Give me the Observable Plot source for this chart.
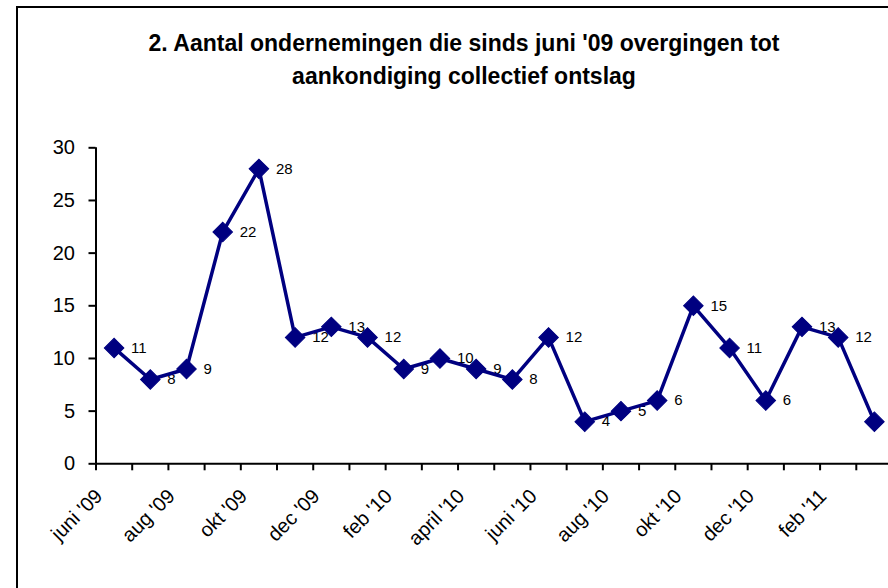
<!DOCTYPE html>
<html><head><meta charset="utf-8">
<script src="https://cdn.jsdelivr.net/npm/d3@7"></script>
<script src="https://cdn.jsdelivr.net/npm/@observablehq/plot@0.6"></script>
<style>
html,body{margin:0;padding:0;background:#fff;}
body{overflow:hidden;width:888px;height:588px;position:relative;font-family:"Liberation Sans",Arial,sans-serif}
#frame{position:absolute;left:16px;top:6px;width:1000px;height:1000px;border:2px solid #000;box-sizing:border-box}
#title{position:absolute;left:0;width:928px;top:27px;text-align:center;font-weight:bold;font-size:23px;line-height:33px;color:#000}
#chart{position:absolute;left:0;top:0;width:910px}
#chart svg{max-width:none !important}
</style></head><body>
<div id="frame"></div>
<div id="chart"></div>
<div id="title">2. Aantal ondernemingen die sinds juni '09 overgingen tot<br>aankondiging collectief ontslag</div>
<script>
const months = ["juni '09","juli '09","aug '09","sept '09","okt '09","nov '09","dec '09","jan '10","feb '10","mrt '10","april '10","mei '10","juni '10","juli '10","aug '10","sept '10","okt '10","nov '10","dec '10","jan '11","feb '11","mrt '11"];
const values = [11,8,9,22,28,12,13,12,9,10,9,8,12,4,5,6,15,11,6,13,12,4];
const yTicks = [0,5,10,15,20,25,30];

const data = months.map((m, i) => ({i, month: m, value: values[i]}));
const shownLabels = data.filter((d, i) => i % 2 === 0);
// the last value label falls outside the cropped picture in the reference
const valueLabels = data.slice(0, data.length - 1);
const boundaries = d3.range(-0.5, months.length, 1);

const chart = Plot.plot({
  width: 910, height: 600,
  marginLeft: 95.5, marginRight: 18, marginTop: 147.3, marginBottom: 136.7,
  x: {type: "linear", domain: [-0.5, months.length - 0.5]},
  y: {domain: [0, 30]},
  style: {fontFamily: "'Liberation Sans', Arial, sans-serif", background: "transparent", overflow: "visible", color: "#000", maxWidth: "none"},
  marks: [
    Plot.axisY({ticks: yTicks, tickSize: 7, tickPadding: 14, fontSize: 20, tickFormat: d => String(d), strokeWidth: 2, label: null}),
    Plot.axisX({ticks: boundaries, tickSize: 7, tickFormat: () => "", strokeWidth: 2, label: null}),
    Plot.ruleX([-0.5], {stroke: "#000", strokeWidth: 2}),
    Plot.ruleY([0], {stroke: "#000", strokeWidth: 2}),
    Plot.text(shownLabels, {x: "i", y: () => 0, text: "month", rotate: -45, textAnchor: "end", dx: -15, dy: 29, fontSize: 20, fill: "#000"}),
    Plot.text(valueLabels, {x: "i", y: "value", text: d => String(d.value), textAnchor: "start", dx: 17, fontSize: 15, fill: "#000"}),
    Plot.line(data, {x: "i", y: "value", stroke: "#000080", strokeWidth: 3.5}),
    Plot.dot(data, {x: "i", y: "value", symbol: "square", rotate: 45, r: 7.8, fill: "#000080", stroke: "#000080", strokeWidth: 1})
  ]
});
document.getElementById("chart").appendChild(chart);
</script>
</body></html>
